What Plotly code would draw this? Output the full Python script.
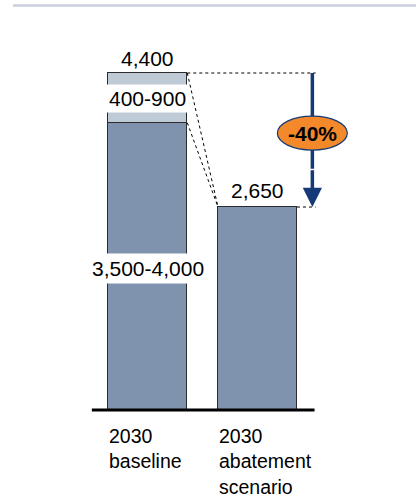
import plotly.graph_objects as go

# ---- data ----
categories = ["2030 baseline", "2030 abatement scenario"]
cat_labels = ["2030<br>baseline", "2030<br>abatement<br>scenario"]
core_values = [3750, 2650]          # lower (dark) segment
range_values = [650, None]          # upper (light) uncertainty segment
totals = [4400, 2650]
total_labels = ["4,400", "2,650"]
core_range_label = "3,500-4,000"
upper_range_label = "400-900"

change_pct = round((totals[1] - totals[0]) / totals[0] * 100)

FONT = "Liberation Sans, Arial, sans-serif"
DARK = "#7f92ae"
LIGHT = "#bfcad7"
NAVY = "#163a78"
ORANGE = "#f3892a"

W, H = 416, 497
PX_PER_CAT = 109.7
BAR_W = 0.72
x0_pix = 147.8
px_per_unit = (410 - 73) / 4400.0

x_range = [-x0_pix / PX_PER_CAT, (W - x0_pix) / PX_PER_CAT]
y_range = [-(H - 410) / px_per_unit, 410 / px_per_unit]

fig = go.Figure()
fig.add_trace(go.Bar(x=[0, 1], y=core_values, width=BAR_W,
                     marker=dict(color=DARK, line=dict(color="#2b2b2b", width=1)),
                     hoverinfo="skip"))
fig.add_trace(go.Bar(x=[0, 1], y=range_values, width=BAR_W,
                     marker=dict(color=LIGHT, line=dict(color="#2b2b2b", width=1)),
                     hoverinfo="skip"))

half = BAR_W / 2
arrow_x = 1.5
ell_y = (totals[0] + totals[1]) / 2 + 90
head_start = totals[1] + 500   # where the arrowhead annotation begins (below the ellipse)

shapes = [
    # top decorative rule
    dict(type="line", xref="paper", yref="paper", x0=13 / W, x1=1, y0=1 - 5.5 / H, y1=1 - 5.5 / H,
         line=dict(color="#c9d1dd", width=2.5)),
    # base line
    dict(type="line", xref="x", yref="y", x0=-0.51, x1=1.52, y0=0, y1=0,
         line=dict(color="black", width=3)),
    # dashed guides
    dict(type="line", x0=half, x1=arrow_x + 0.03, y0=totals[0], y1=totals[0],
         line=dict(color="black", width=1, dash="dot")),
    dict(type="line", x0=1 + half, x1=arrow_x + 0.03, y0=totals[1], y1=totals[1],
         line=dict(color="black", width=1, dash="dot")),
    dict(type="line", x0=half, x1=1 - half, y0=totals[0], y1=totals[1],
         line=dict(color="black", width=1, dash="dot")),
    dict(type="line", x0=half, x1=1 - half, y0=core_values[0], y1=totals[1],
         line=dict(color="black", width=1, dash="dot")),
    # arrow shaft (behind the ellipse)
    dict(type="line", x0=arrow_x, x1=arrow_x, y0=totals[0], y1=head_start,
         line=dict(color=NAVY, width=3.5), layer="above"),
    # ellipse
    dict(type="circle", xref="x", yref="y", xsizemode="pixel", ysizemode="pixel",
         xanchor=arrow_x, yanchor=ell_y, x0=-35, x1=35, y0=-17, y1=17,
         fillcolor=ORANGE, line=dict(color=NAVY, width=1.2), layer="above"),
]

annotations = [
    dict(x=0, y=totals[0], text=total_labels[0], showarrow=False, yanchor="bottom", yshift=1,
         font=dict(size=21, color="black", family=FONT)),
    dict(x=1, y=totals[1], text=total_labels[1], showarrow=False, yanchor="bottom", yshift=3,
         font=dict(size=21, color="black", family=FONT)),
    dict(x=0, y=core_values[0] + range_values[0] / 2, text=upper_range_label, showarrow=False,
         bgcolor="white", borderpad=2, yshift=-1,
         font=dict(size=21, color="black", family=FONT)),
    dict(x=0, y=core_values[0] / 2, text=core_range_label, showarrow=False,
         bgcolor="white", borderpad=3, yshift=-2,
         font=dict(size=21, color="black", family=FONT)),
    # arrowhead
    dict(x=arrow_x, y=totals[1], ax=arrow_x, ay=head_start, xref="x", yref="y",
         axref="x", ayref="y", text="", showarrow=True, arrowhead=2, arrowsize=1.1,
         arrowwidth=3.5, arrowcolor=NAVY, standoff=0),
    dict(x=arrow_x, y=ell_y, text="<b>%d%%</b>" % change_pct, showarrow=False,
         font=dict(size=21, color="black", family=FONT)),
]
for i, lab in enumerate(cat_labels):
    annotations.append(dict(x=i, y=0, xshift=-PX_PER_CAT * BAR_W / 2 - 1, yshift=-13,
                            xanchor="left", yanchor="top", align="left",
                            text=lab, showarrow=False,
                            font=dict(size=19.5, color="black", family=FONT)))

fig.update_layout(
    width=W, height=H, margin=dict(l=0, r=0, t=0, b=0),
    paper_bgcolor="white", plot_bgcolor="white",
    barmode="stack", showlegend=False, bargap=0,
    xaxis=dict(range=x_range, visible=False, fixedrange=True),
    yaxis=dict(range=y_range, visible=False, fixedrange=True),
    shapes=shapes, annotations=annotations,
    font=dict(family=FONT),
)

fig.write_html("out.html")
